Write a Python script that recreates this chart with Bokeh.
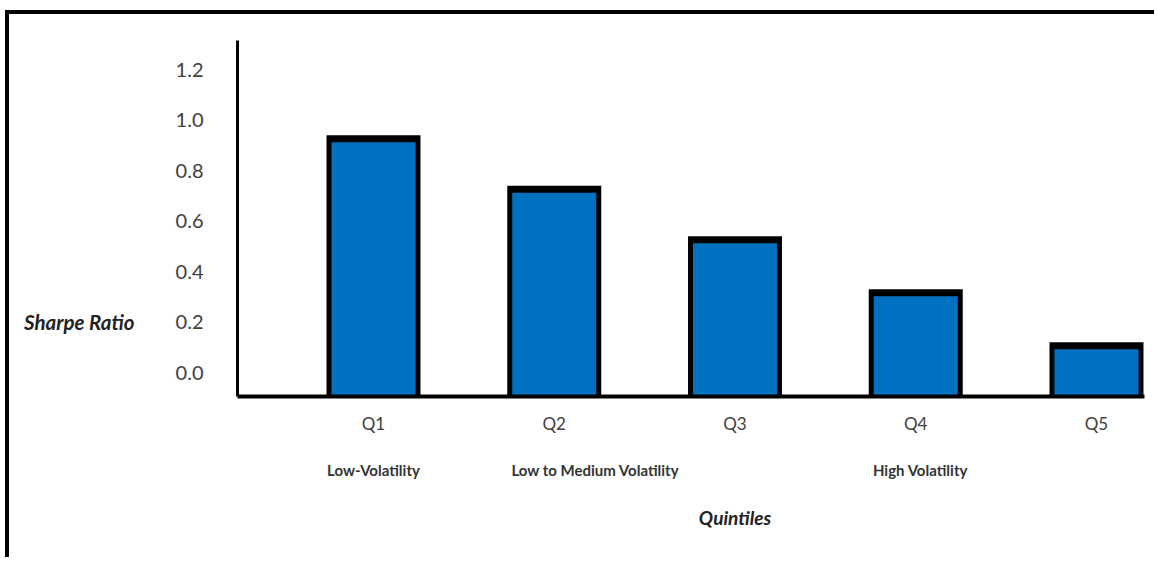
from bokeh.plotting import figure
from bokeh.models import Range1d, FixedTicker, NumeralTickFormatter, LinearAxis
from bokeh.embed import file_html
from bokeh.resources import INLINE

# Sharpe ratio by volatility quintile
quintiles = ["Q1", "Q2", "Q3", "Q4", "Q5"]
sharpe = [0.94, 0.74, 0.54, 0.33, 0.12]
sub_labels = ["Low-Volatility", "Low to Medium Volatility", "", "High Volatility", ""]
y_ticks = [0.0, 0.2, 0.4, 0.6, 0.8, 1.0, 1.2]

FONT = "Lato"
Y_START, Y_END = -0.095, 1.315
X_START, X_END = 0.2476, 5.2656

xpos = list(range(1, len(quintiles) + 1))

p = figure(width=1149, height=547, output_backend="svg", toolbar_location=None,
           x_range=Range1d(X_START, X_END), y_range=Range1d(Y_START, Y_END),
           min_border_left=228, min_border_right=14, min_border_top=26,
           min_border_bottom=165,
           styles={"margin-left": "5px", "margin-top": "10px",
                   "border-top": "4px solid black",
                   "border-left": "4px solid black"})
p.background_fill_color = "white"
p.border_fill_color = "white"
p.outline_line_color = None
p.grid.visible = False

# bars: black shell with a heavier cap, blue body inset
CAP = 0.028
BAR_W = 0.52
INSET = 0.055
p.vbar(x=xpos, top=sharpe, bottom=Y_START, width=BAR_W,
       fill_color="black", line_color=None)
p.vbar(x=xpos, top=[v - CAP for v in sharpe], bottom=Y_START,
       width=BAR_W - INSET, fill_color="#0070C0", line_color=None)


def bare(axis):
    axis.axis_line_color = None
    axis.major_tick_line_color = None
    axis.minor_tick_line_color = None


# y axis
ya = p.yaxis[0]
ya.ticker = FixedTicker(ticks=y_ticks)
ya.formatter = NumeralTickFormatter(format="0.0")
ya.axis_line_color = "black"
ya.axis_line_width = 3
ya.major_tick_line_color = None
ya.minor_tick_line_color = None
ya.major_label_standoff = 28
ya.major_label_text_font = FONT
ya.major_label_text_font_size = "20px"
ya.major_label_text_color = "#404040"

# y title, level with the 0.2 row
yt = LinearAxis(ticker=FixedTicker(ticks=[0.2]),
                major_label_overrides={0.2: "Sharpe Ratio"})
bare(yt)
yt.major_label_standoff = 32
yt.major_label_text_font = FONT
yt.major_label_text_font_size = "20.5px"
yt.major_label_text_font_style = "bold italic"
yt.major_label_text_color = "#222222"
p.add_layout(yt, "left")

# x axis
xa = p.xaxis[0]
xa.ticker = FixedTicker(ticks=xpos)
xa.major_label_overrides = {i: q for i, q in zip(xpos, quintiles)}
xa.axis_line_color = "black"
xa.axis_line_width = 4
xa.major_tick_line_color = None
xa.minor_tick_line_color = None
xa.major_label_standoff = 10
xa.major_label_text_font = FONT
xa.major_label_text_font_size = "17px"
xa.major_label_text_color = "#404040"

# descriptive labels under the quintile names
sub_shift = [0.0, 0.228, 0.0, 0.026, 0.0]
sub_ticks = [x + d for x, d, s in zip(xpos, sub_shift, sub_labels) if s]
sub_text = [s for s in sub_labels if s]
xs = LinearAxis(ticker=FixedTicker(ticks=sub_ticks),
                major_label_overrides=dict(zip(sub_ticks, sub_text)))
bare(xs)
xs.major_label_standoff = 18
xs.major_label_text_font = FONT
xs.major_label_text_font_size = "15px"
xs.major_label_text_font_style = "bold"
xs.major_label_text_color = "#333333"
p.add_layout(xs, "below")

# x title
xt = LinearAxis(ticker=FixedTicker(ticks=[3]),
                major_label_overrides={3: "Quintiles"})
bare(xt)
xt.major_label_standoff = 18
xt.major_label_text_font = FONT
xt.major_label_text_font_size = "19px"
xt.major_label_text_font_style = "bold italic"
xt.major_label_text_color = "#222222"
p.add_layout(xt, "below")

open("out.html", "w").write(file_html(p, INLINE))
